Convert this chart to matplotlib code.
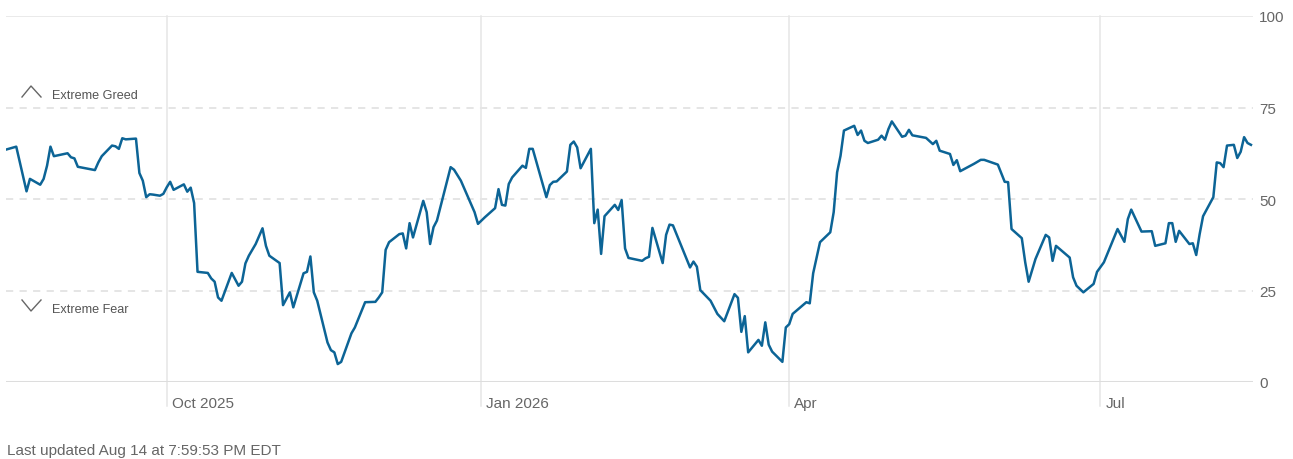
import matplotlib
matplotlib.use("Agg")
from matplotlib import pyplot as plt
from matplotlib.lines import Line2D
import matplotlib.dates as mdates
import numpy as np
import pandas as pd

plt.rcParams['font.family'] = ['Liberation Sans', 'DejaVu Sans']

# donnees (jours depuis le 15 aout 2025, indice fear & greed)
start = pd.Timestamp("2025-08-15")
days = [0, 3, 6, 7, 10, 11, 12, 13, 14, 18, 19, 20, 21, 26, 27, 28, 31, 32, 33, 34, 35, 38, 39, 40,
        41, 42, 43, 45, 46, 47, 48, 49, 52, 53, 54, 55, 56, 59, 60, 61, 62, 63, 66, 68, 69, 70, 71, 73,
        75, 76, 77, 80, 81, 83, 84, 87, 88, 89, 90, 91, 94, 95, 96, 97, 98, 101, 102, 105, 108, 109,
        110, 111, 112, 115, 116, 117, 118, 119, 122, 123, 124, 125, 126, 130, 131, 133, 137, 138, 140,
        143, 144, 145, 146, 147, 148, 151, 152, 153, 154, 158, 159, 160, 161, 164, 165, 166, 167, 168,
        171, 172, 173, 174, 175, 178, 179, 180, 181, 182, 186, 187, 188, 189, 192, 193, 194, 195, 196,
        200, 201, 202, 203, 206, 208, 210, 213, 214, 215, 216, 217, 220, 221, 222, 223, 224, 227, 228,
        229, 230, 234, 235, 236, 238, 241, 242, 243, 244, 245, 248, 249, 250, 251, 252, 255, 256, 257,
        258, 259, 262, 263, 264, 265, 269, 271, 272, 273, 276, 277, 278, 279, 283, 285, 286, 290, 292,
        293, 294, 297, 298, 299, 301, 304, 305, 306, 307, 311, 312, 313, 315, 318, 319, 321, 325, 327,
        328, 329, 332, 335, 336, 339, 340, 341, 342, 343, 346, 347, 348, 349, 350, 353, 354, 355, 356,
        357, 359, 360, 361, 362, 363, 364]
score = [63.5, 64.3, 52.1, 55.5, 53.9, 55.5, 59.1, 64.3, 61.7, 62.5, 61.4, 61.1, 58.8, 57.9, 60.0,
         61.7, 64.6, 64.4, 63.7, 66.6, 66.3, 66.5, 57.1, 55.0, 50.5, 51.3, 51.2, 50.9, 51.4, 53.2, 54.7,
         52.5, 54.0, 52.0, 53.1, 48.9, 30.1, 29.8, 28.3, 27.4, 23.1, 22.2, 29.8, 26.3, 27.4, 32.4, 34.5,
         37.7, 42.0, 37.2, 34.5, 32.5, 21.0, 24.5, 20.4, 29.7, 30.1, 34.3, 24.5, 22.2, 10.8, 8.7, 8.1,
         4.9, 5.5, 13.3, 14.9, 21.8, 21.9, 23.1, 24.5, 36.1, 38.2, 40.4, 40.6, 36.5, 43.4, 39.5, 49.5,
         46.4, 37.7, 42.3, 44.1, 58.7, 58.0, 55.0, 46.4, 43.2, 45.0, 47.5, 52.7, 48.4, 48.2, 54.1, 55.9,
         59.1, 58.5, 63.7, 63.7, 50.5, 53.8, 54.7, 54.8, 57.5, 64.8, 65.7, 64.1, 58.4, 63.7, 43.4, 47.1,
         35.0, 45.3, 48.4, 47.0, 49.7, 36.5, 33.9, 33.1, 33.8, 34.2, 42.1, 32.5, 40.2, 43.0, 42.8, 40.5,
         31.3, 32.9, 31.5, 25.1, 22.2, 18.6, 16.6, 24.0, 23.0, 13.7, 18.0, 8.1, 11.5, 9.9, 16.3, 10.2,
         8.3, 5.5, 14.9, 15.8, 18.6, 21.8, 21.5, 29.7, 38.2, 40.9, 46.4, 57.3, 61.8, 68.7, 70.0, 67.5,
         68.7, 65.9, 65.3, 66.2, 67.3, 66.2, 69.1, 71.2, 67.0, 67.3, 68.9, 67.4, 66.7, 65.0, 65.9, 63.2,
         62.3, 59.3, 60.6, 57.6, 59.6, 60.7, 60.7, 59.4, 54.7, 54.6, 41.8, 39.3, 32.7, 27.4, 33.6, 40.2,
         39.5, 33.1, 37.2, 34.0, 28.6, 26.3, 24.5, 26.8, 30.1, 32.7, 41.8, 38.3, 44.5, 47.1, 41.1, 41.2,
         37.2, 37.9, 43.4, 43.4, 38.3, 41.3, 37.7, 37.9, 34.7, 40.4, 45.3, 50.5, 60.0, 59.8, 58.7, 64.6,
         64.8, 61.2, 62.9, 66.9, 65.3, 64.8]
mois = ["2025-10-01", "2026-01-01", "2026-04-01", "2026-07-01"]
mois_labels = ["Oct 2025", "Jan 2026", "Apr", "Jul"]
y_ticks = [0, 25, 50, 75, 100]

dates = start + pd.to_timedelta(days, unit="D")

W, H = 1293, 460
fig = plt.figure(figsize=(W / 100, H / 100), dpi=100)
ax = fig.add_axes([6 / W, (H - 383) / H, (1253 - 6) / W, (383 - 17) / H])

gris_txt = "#666666"
ax.axhline(100, color="#e6e6e6", lw=1.2, zorder=1)
for v in [25, 50, 75]:
    ax.axhline(v, color="#e3e3e3", lw=1.3, ls=(0, (4, 3.5)), zorder=1)
ax.axhline(0, color="#dddddd", lw=2.2, zorder=2)

for m in mois:
    ax.axvline(pd.Timestamp(m), ymin=-0.066, ymax=1, color="#e6e6e6", lw=1.1, clip_on=False, zorder=1)

ax.plot(dates, score, color="#0c6496", lw=1.8, solid_joinstyle="round", zorder=3)

ax.set_xlim(start, start + pd.Timedelta(days=364.6))
ax.set_ylim(0, 100)
for s in ax.spines.values():
    s.set_visible(False)
ax.set_xticks([])
ax.set_yticks([])

# etiquettes des mois
for m, lab in zip(mois, mois_labels):
    ax.annotate(lab, xy=(mdates.date2num(pd.Timestamp(m)), 0), xycoords=("data", "axes fraction"),
                xytext=(5, -21), textcoords="offset pixels", ha="left", va="center",
                fontsize=11, color=gris_txt)

# etiquettes axe y
for v in y_ticks:
    ax.annotate(str(v), xy=(1, v), xycoords=("axes fraction", "data"),
                xytext=(6, -1.5), textcoords="offset pixels", ha="left", va="center",
                fontsize=11, color=gris_txt)

# zones extremes
fig.add_artist(Line2D([22 / W, 31 / W, 41 / W], [1 - 98 / H, 1 - 87 / H, 1 - 98 / H],
                      color="#666666", lw=1.0))
fig.add_artist(Line2D([22 / W, 31 / W, 41 / W], [1 - 301 / H, 1 - 312 / H, 1 - 301 / H],
                      color="#666666", lw=1.0))
fig.text(52 / W, 1 - 96 / H, "Extreme Greed", fontsize=9.1, color="#555555", ha="left", va="center")
fig.text(52 / W, 1 - 310 / H, "Extreme Fear", fontsize=9.1, color="#555555", ha="left", va="center")

fig.text(7 / W, 1 - 451 / H, "Last updated Aug 14 at 7:59:53 PM EDT", fontsize=11,
         color=gris_txt, ha="left", va="center")

fig.savefig("out.png", dpi=100)
